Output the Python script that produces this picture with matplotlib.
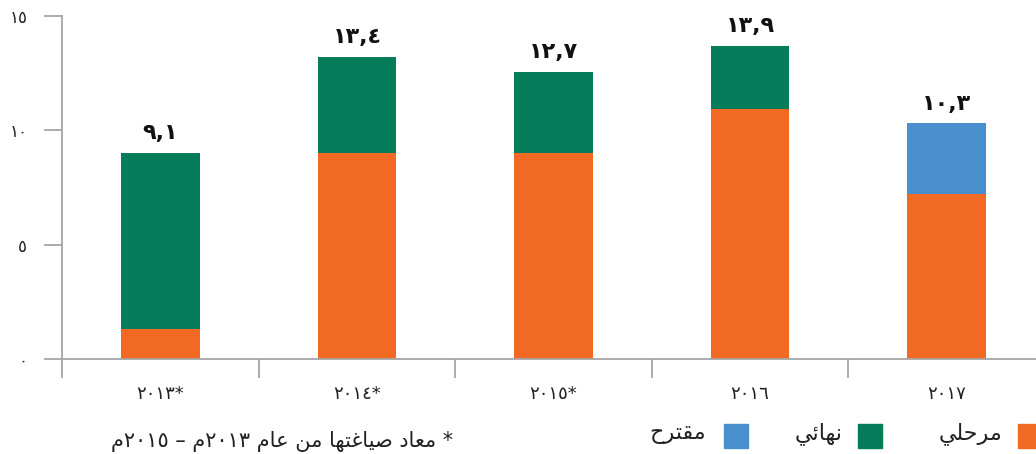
import re
import unicodedata
import numpy as np
import matplotlib
matplotlib.use("Agg")
import matplotlib.pyplot as plt
from matplotlib.patches import Rectangle

plt.rcParams['font.family'] = ['DejaVu Sans']

# data
years = ['*٢٠١٣', '*٢٠١٤', '*٢٠١٥', '٢٠١٦', '٢٠١٧']
interim = [1.3, 9.0, 9.0, 10.95, 7.2]     # مرحلي
final = [7.7, 4.2, 3.55, 2.75, 0.0]       # نهائي
proposed = [0.0, 0.0, 0.0, 0.0, 3.1]      # مقترح
total_labels = ['٩,١', '١٣,٤', '١٢,٧', '١٣,٩', '١٠,٣']
y_ticks = [0, 5, 10, 15]
y_labels = ['٠', '٥', '١٠', '١٥']
series_names = ['مرحلي', 'نهائي', 'مقترح']
footnote = '* معاد صياغتها من عام ٢٠١٣م – ٢٠١٥م'

c_orange = '#F26923'
c_green = '#057C5A'
c_blue = '#4A8FCD'
c_axis = '#A6A6A6'

# --- tiny arabic shaper (presentation forms + visual order) ---
FORMS = {}
for cp in range(0xFE70, 0xFEFF):
    d = unicodedata.decomposition(chr(cp)).split()
    if len(d) == 2 and d[0].startswith('<'):
        FORMS.setdefault(chr(int(d[1], 16)), {})[d[0]] = chr(cp)


def dual(ch):
    return ch in FORMS and '<initial>' in FORMS[ch]


def ar(text):
    out = []
    for i, ch in enumerate(text):
        if ch not in FORMS:
            out.append(ch)
            continue
        prev = text[i - 1] if i > 0 else ''
        nxt = text[i + 1] if i + 1 < len(text) else ''
        jp = dual(prev)
        jn = dual(ch) and nxt in FORMS
        if jp and jn:
            form = '<medial>'
        elif jp:
            form = '<final>'
        elif jn:
            form = '<initial>'
        else:
            form = '<isolated>'
        out.append(FORMS[ch].get(form, FORMS[ch].get('<isolated>', ch)))
    tokens = re.findall(r'[\u0660-\u0669]+|.', ''.join(out))
    return ''.join(reversed(tokens))


fig = plt.figure(figsize=(10.36, 4.54), dpi=100)
ax = fig.add_axes([62 / 1036, 95 / 454, 983 / 1036, 343 / 454])

x = np.arange(len(years))
w = 0.4
ax.bar(x, interim, w, color=c_orange)
ax.bar(x, final, w, bottom=interim, color=c_green)
ax.bar(x, proposed, w, bottom=np.array(interim) + np.array(final), color=c_blue)

tops = np.array(interim) + np.array(final) + np.array(proposed)
for xi, t, lab in zip(x, tops, total_labels):
    ax.annotate(lab, (xi, t), xytext=(0, 7), textcoords='offset points',
                ha='center', va='bottom', fontsize=16, fontweight='bold', color='#111111')

ax.set_xlim(-0.5, 4.5)
ax.set_ylim(0, 15)
for s in ['top', 'right']:
    ax.spines[s].set_visible(False)
for s in ['left', 'bottom']:
    ax.spines[s].set_color(c_axis)
    ax.spines[s].set_linewidth(1.3)

ax.set_yticks(y_ticks)
ax.set_yticklabels(y_labels, fontsize=12, color='#222222')
ax.tick_params(axis='y', length=13, width=1.3, color=c_axis, pad=12)

ax.set_xticks(x)
ax.set_xticklabels([ar(y) for y in years], fontsize=13, color='#222222')
ax.tick_params(axis='x', which='major', length=0, pad=19)
ax.set_xticks(np.arange(-0.5, 4.0, 1.0), minor=True)
ax.tick_params(axis='x', which='minor', length=14, width=1.3, color=c_axis)

# legend (drawn in figure pixels, right to left)
colors = [c_orange, c_green, c_blue]
sq_left = [1018, 858, 724]
txt_right = [1002, 843, 706]
for col, sx, tx, name in zip(colors, sq_left, txt_right, series_names):
    fig.patches.append(Rectangle((sx / 1036, 6 / 454), 24 / 1036, 24 / 454,
                                 transform=fig.transFigure, color=col))
    fig.text(tx / 1036, 20 / 454, ar(name), ha='right', va='center',
             fontsize=16, color='#222222')

fig.text(453 / 1036, 13 / 454, ar(footnote), ha='right', va='center',
         fontsize=15, color='#222222')

fig.savefig('out.png', dpi=100)
